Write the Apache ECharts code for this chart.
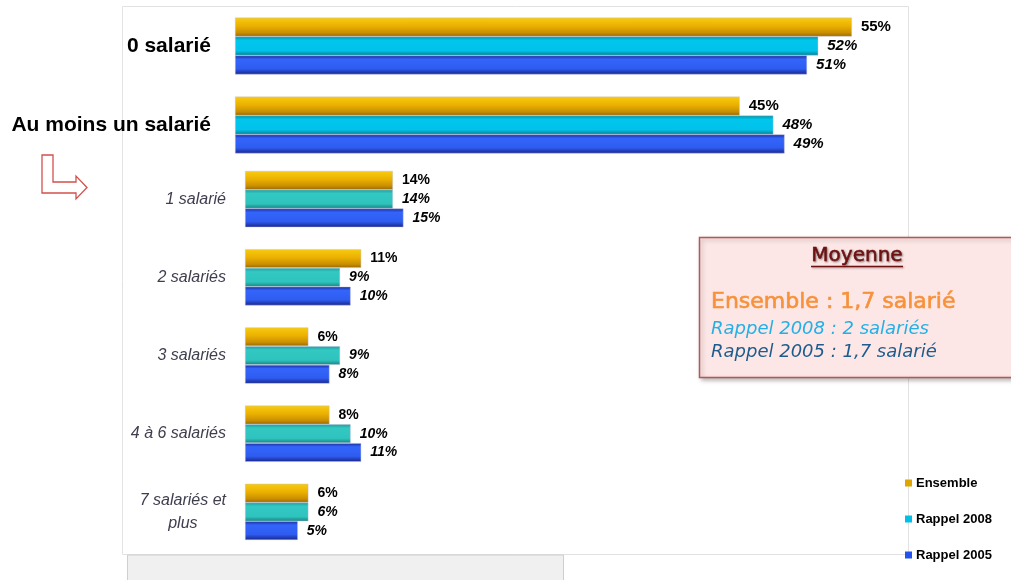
<!DOCTYPE html>
<html>
<head>
<meta charset="utf-8">
<script src="https://cdn.jsdelivr.net/npm/echarts@6/dist/echarts.min.js"></script>
<style>
  html, body { margin: 0; padding: 0; background: #ffffff; }
  #chart { width: 1011px; height: 580px; }
</style>
</head>
<body>
<div id="chart"></div>
<script>
// Répartition des entreprises selon le nombre de salariés
const categories = ['0 salarié', 'Au moins un salarié', '1 salarié', '2 salariés', '3 salariés', '4 à 6 salariés', '7 salariés et\nplus'];
const ensemble   = [55, 45, 14, 11, 6, 8, 6];
const rappel2008 = [52, 48, 14, 9, 9, 10, 6];
const rappel2005 = [51, 49, 15, 10, 8, 11, 5];
const seriesNames = ['Ensemble', 'Rappel 2008', 'Rappel 2005'];

// Encadré "Moyenne"
const moyenneTitre = 'Moyenne';
const moyenneLignes = ['Ensemble : 1,7 salarié', 'Rappel 2008 : 2 salariés', 'Rappel 2005 : 1,7 salarié'];

// Two blocks: the totals (first two rows) and the detail rows (indented)
const topCats = categories.slice(0, 2);
const botCats = categories.slice(2);

function vgrad(stops) {
  return new echarts.graphic.LinearGradient(0, 0, 0, 1,
    stops.map(s => ({ offset: s[0], color: s[1] })));
}
const colEnsemble = vgrad([[0, '#f8cc10'], [0.45, '#ebb000'], [0.8, '#c98f00'], [1, '#9a6600']]);
const col2008Top  = vgrad([[0, '#00909c'], [0.2, '#00c6ee'], [0.75, '#00c2ea'], [1, '#007f8a']]);
const col2008Bot  = vgrad([[0, '#1b9e9a'], [0.2, '#33c8c3'], [0.75, '#2fc3be'], [1, '#17827f']]);
const col2005     = vgrad([[0, '#1a2a98'], [0.2, '#3365fb'], [0.7, '#2f5cf0'], [1, '#16258a']]);

function makeSeries(name, data, color, gridIdx, fs, italic) {
  return {
    name: name,
    type: 'bar',
    xAxisIndex: gridIdx,
    yAxisIndex: gridIdx,
    data: data,
    barGap: '0%',
    barCategoryGap: '28%',
    itemStyle: { color: color, borderColor: 'rgba(190,190,225,0.7)', borderWidth: 0.6 },
    label: {
      show: true,
      position: 'right',
      distance: 9,
      formatter: '{c}%',
      fontFamily: 'Liberation Sans',
      fontWeight: 'bold',
      fontStyle: italic ? 'italic' : 'normal',
      fontSize: fs,
      color: '#000'
    },
    emphasis: { disabled: true },
    animation: false
  };
}

const chart = echarts.init(document.getElementById('chart'), null, { renderer: 'canvas' });

const legendSwatch = (c) => ({ color: c, borderWidth: 0, borderColor: c });

const option = {
  backgroundColor: '#ffffff',
  animation: false,
  grid: [
    { left: 235, top: 6.5, width: 673, height: 158 },
    { left: 245, top: 160, width: 634, height: 391 }
  ],
  xAxis: [
    { gridIndex: 0, type: 'value', min: 0, max: 60, show: false },
    { gridIndex: 1, type: 'value', min: 0, max: 60, show: false }
  ],
  yAxis: [
    {
      gridIndex: 0, type: 'category', data: topCats, inverse: true,
      axisLine: { show: false }, axisTick: { show: false },
      axisLabel: {
        margin: 24, fontFamily: 'Liberation Sans', fontWeight: 'bold',
        fontSize: 21, color: '#000'
      }
    },
    {
      gridIndex: 1, type: 'category', data: botCats, inverse: true,
      axisLine: { show: false }, axisTick: { show: false },
      axisLabel: {
        margin: 19, fontFamily: 'Liberation Sans', fontStyle: 'italic',
        fontSize: 16, color: '#3e3e4e', lineHeight: 23,
        formatter: function (v) {
          if (v.indexOf('\n') < 0) return v;
          return v.split('\n').map(s => '{c|' + s + '}').join('\n');
        },
        rich: {
          c: {
            align: 'center', fontFamily: 'Liberation Sans', fontStyle: 'italic',
            fontSize: 16, color: '#3e3e4e', lineHeight: 23
          }
        }
      }
    }
  ],
  legend: {
    orient: 'vertical',
    left: 905,
    top: 476,
    padding: 0,
    itemWidth: 7,
    itemHeight: 7,
    itemGap: 22,
    icon: 'rect',
    selectedMode: false,
    textStyle: {
      fontFamily: 'Liberation Sans', fontWeight: 'bold', fontSize: 13,
      color: '#000', lineHeight: 14, padding: [0, 0, 0, -1]
    },
    data: [
      { name: seriesNames[0], itemStyle: legendSwatch('#e0a600') },
      { name: seriesNames[1], itemStyle: legendSwatch('#00c0e8') },
      { name: seriesNames[2], itemStyle: legendSwatch('#2452f0') }
    ]
  },
  series: [
    makeSeries(seriesNames[0], ensemble.slice(0, 2), colEnsemble, 0, 15, false),
    makeSeries(seriesNames[1], rappel2008.slice(0, 2), col2008Top, 0, 15, true),
    makeSeries(seriesNames[2], rappel2005.slice(0, 2), col2005, 0, 15, true),
    makeSeries(seriesNames[0], ensemble.slice(2), colEnsemble, 1, 14, false),
    makeSeries(seriesNames[1], rappel2008.slice(2), col2008Bot, 1, 14, true),
    makeSeries(seriesNames[2], rappel2005.slice(2), col2005, 1, 14, true)
  ],
  graphic: [
    // plot frame
    {
      type: 'rect', z: -10, silent: true,
      shape: { x: 122.5, y: 6.5, width: 786, height: 548 },
      style: { fill: 'none', stroke: '#e2e2e2', lineWidth: 1 }
    },
    // grey strip below the frame
    {
      type: 'rect', z: -9, silent: true,
      shape: { x: 127.5, y: 555, width: 436, height: 30 },
      style: { fill: '#f0f0f0', stroke: '#cfcfcf', lineWidth: 1 }
    },
    // outlined arrow pointing to the detail rows
    {
      type: 'polygon', z: 5, silent: true,
      shape: {
        points: [[42, 155], [53, 155], [53, 182], [76, 182], [76, 176],
                 [87, 187.5], [76, 199], [76, 193], [42, 193]]
      },
      style: { fill: '#ffffff', stroke: '#d4504c', lineWidth: 1.3 }
    },
    // "Moyenne" box
    {
      type: 'rect', z: 20, silent: true,
      shape: { x: 699.5, y: 237.5, width: 330, height: 140 },
      style: {
        fill: '#fde6e6', stroke: '#b65656', lineWidth: 1.5,
        shadowBlur: 4, shadowColor: 'rgba(0,0,0,0.25)', shadowOffsetX: 2, shadowOffsetY: 2
      }
    },
    {
      type: 'text', z: 21, silent: true, x: 857, y: 256,
      style: {
        text: moyenneTitre, align: 'center', verticalAlign: 'middle',
        font: '20px "DejaVu Sans"', fill: '#6e1010', stroke: '#6e1010', lineWidth: 0.5,
        textShadowColor: 'rgba(0,0,0,0.4)', textShadowBlur: 2, textShadowOffsetX: 1, textShadowOffsetY: 1
      }
    },
    {
      type: 'line', z: 21, silent: true,
      shape: { x1: 811, y1: 266.5, x2: 903, y2: 266.5 },
      style: {
        stroke: '#6e1010', lineWidth: 1.5,
        shadowColor: 'rgba(0,0,0,0.35)', shadowBlur: 2, shadowOffsetX: 1, shadowOffsetY: 1
      }
    },
    {
      type: 'text', z: 21, silent: true, x: 711, y: 302,
      style: {
        text: moyenneLignes[0], align: 'left', verticalAlign: 'middle',
        font: '22px "DejaVu Sans"', fill: '#f7913a', stroke: '#f7913a', lineWidth: 0.6
      }
    },
    {
      type: 'text', z: 21, silent: true, x: 711, y: 329,
      style: {
        text: moyenneLignes[1], align: 'left', verticalAlign: 'middle',
        font: 'italic 18px "DejaVu Sans"', fill: '#22b0e6'
      }
    },
    {
      type: 'text', z: 21, silent: true, x: 711, y: 352,
      style: {
        text: moyenneLignes[2], align: 'left', verticalAlign: 'middle',
        font: 'italic 18px "DejaVu Sans"', fill: '#1d5c8c'
      }
    }
  ]
};

chart.setOption(option);
</script>
</body>
</html>
